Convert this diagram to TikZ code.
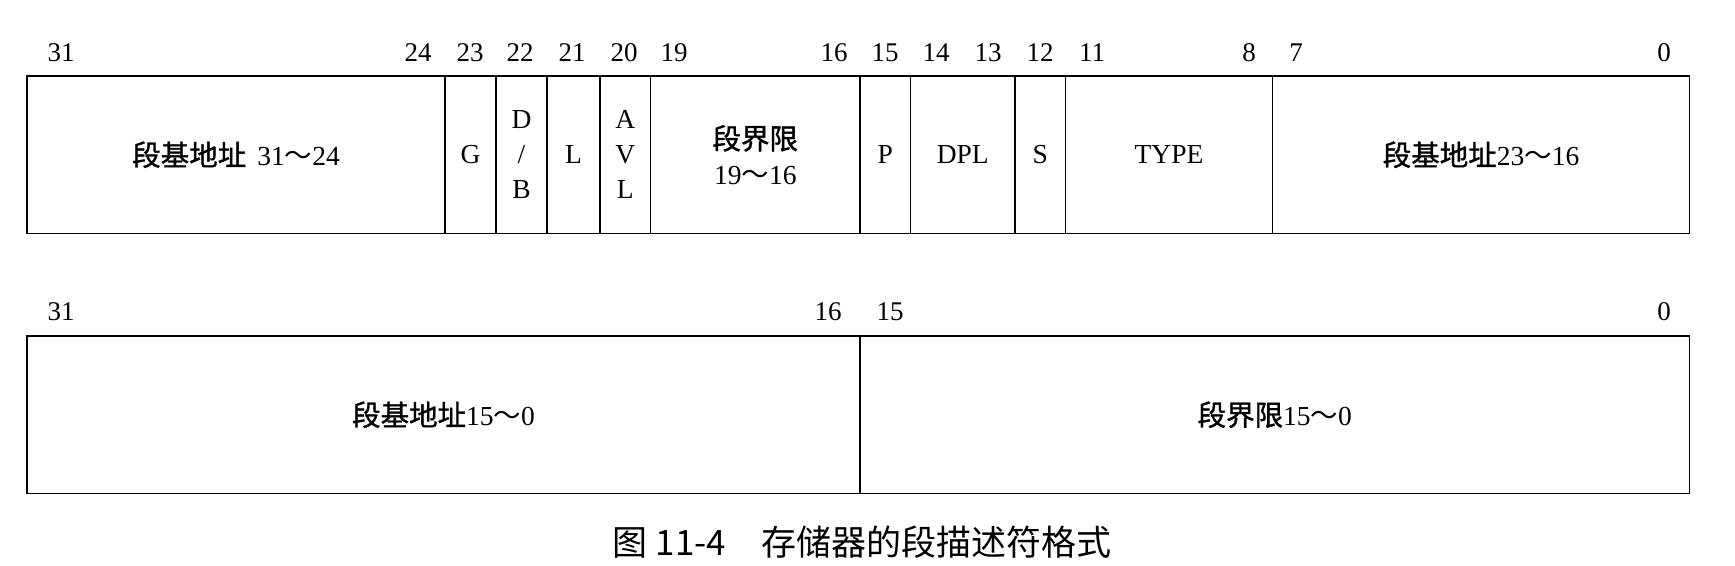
\documentclass[tikz,border=0pt]{standalone}
\usepackage{fontspec}
\setmainfont{Liberation Serif}
\newfontfamily\cjk{Noto Sans CJK SC}
\newfontfamily\cjkb[FakeBold=1.2]{Noto Sans CJK SC}
\newcommand{\zh}[1]{{\cjkb\fontsize{28.5}{36}\selectfont #1}}
\newcommand{\tld}{{\cjk ～}}
\begin{document}
\begin{tikzpicture}[x=1pt,y=-1pt,
  field/.style={draw, line width=1.7pt, inner sep=0pt, minimum height=157.5pt, anchor=center, align=center, font=\fontsize{27.5}{35}\selectfont},
  bitlbl/.style={anchor=base, inner sep=0pt, font=\fontsize{27}{28}\selectfont}]
\useasboundingbox (0,0) rectangle (1735,565);
% row 1
\node[field, minimum width=418pt] (base3124) at (236,154.75) {\zh{段基地址}\hspace{0.4em}31\tld 24};
\node[field, minimum width=51pt] (g) at (470.5,154.75) {G};
\node[field, minimum width=51pt] (db) at (521.5,154.75) {D\\/\\B};
\node[field, minimum width=53pt] (l) at (573.5,154.75) {L};
\node[field, minimum width=50.5pt] (avl) at (625.25,154.75) {A\\V\\L};
\node[field, minimum width=209.5pt] (lim1916) at (755.25,154.75) {\zh{段界限}\\19\tld 16};
\node[field, minimum width=50.5pt] (p) at (885.25,154.75) {P};
\node[field, minimum width=104.5pt] (dpl) at (962.75,154.75) {DPL};
\node[field, minimum width=50.5pt] (s) at (1040.25,154.75) {S};
\node[field, minimum width=207pt] (type) at (1169,154.75) {TYPE};
\node[field, minimum width=417pt] (base2316) at (1481,154.75) {\zh{段基地址}23\tld 16};
% row 2
\node[field, minimum width=833pt] (base150) at (443.5,414.75) {\zh{段基地址}15\tld 0};
\node[field, minimum width=829.5pt] (lim150) at (1274.75,414.75) {\zh{段界限}15\tld 0};
% bit labels row 1
\foreach \n/\x in {31/61, 24/418, 23/470, 22/520, 21/572, 20/624, 19/674, 16/834, 15/885, 14/936, 13/988, 12/1040, 11/1092, 8/1249, 7/1296, 0/1664}
  \node[bitlbl] (t\n) at (\x,61) {\n};
% bit labels row 2
\foreach \n/\x in {31/61, 16/828, 15/890, 0/1664}
  \node[bitlbl] (b\n) at (\x,320) {\n};
% caption
\node[inner sep=0pt, font=\cjk\fontsize{35}{40}\selectfont] (caption) at (862,542) {图 11-4\hspace{1em}存储器的段描述符格式};
\end{tikzpicture}
\end{document}
